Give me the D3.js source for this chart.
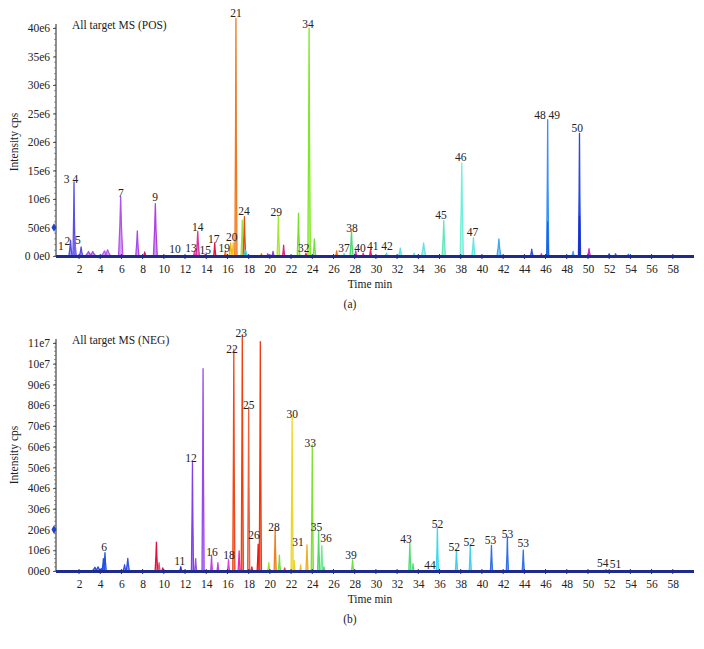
<!DOCTYPE html>
<html><head><meta charset="utf-8">
<script src="https://cdn.jsdelivr.net/npm/d3@7"></script>
<style>
body{margin:0;background:#fff}
svg{display:block}
text{font-family:"Liberation Serif","DejaVu Serif",serif;fill:#222}
</style>
</head><body>
<svg id="c" width="704" height="649"></svg>
<script>
// ---------- shared ----------
const xTickValues = [2,4,6,8,10,12,14,16,18,20,22,24,26,28,30,32,34,36,38,40,42,44,46,48,50,52,54,56,58];

// ---------- (a) POS ----------
const posYTickValues = [0,5e6,10e6,15e6,20e6,25e6,30e6,35e6,40e6];
const posYTickLabels = ["0 0e0","50e6","10e6","15e6","20e6","25e6","30e6","35e6","40e6"];
const posTimes   = [1.2, 1.53, 1.6, 2.2, 2.9, 3.3, 4.4, 4.7, 5.93, 7.5, 8.2, 9.2, 12.9, 13.2, 13.9, 14.8, 15.8, 16.3, 16.55, 16.8, 17.4, 17.6, 17.7, 19.2, 19.8, 20.3, 20.8, 21.3, 22.7, 23.4, 23.7, 24.2, 26.3, 27.0, 27.7, 28.1, 28.8, 29.5, 31.0, 32.3, 33.6, 34.5, 36.4, 38.1, 39.2, 41.6, 44.7, 45.6, 46.2, 46.2, 48.6, 49.2, 49.2, 50.1, 52.0, 52.6, 53.8];
const posHeights = [2.8e6, 13.0e6, 3.5e6, 1.6e6, 0.8e6, 0.8e6, 0.9e6, 1.1e6, 10.4e6, 4.4e6, 0.7e6, 9.2e6, 0.9e6, 4.3e6, 0.3e6, 2.3e6, 0.9e6, 2.3e6, 2.3e6, 41.7e6, 6.3e6, 6.9e6, 1.0e6, 0.4e6, 0.4e6, 0.8e6, 7.0e6, 1.9e6, 7.5e6, 0.5e6, 40.0e6, 3.0e6, 0.9e6, 0.4e6, 4.3e6, 0.9e6, 0.5e6, 1.2e6, 0.5e6, 1.4e6, 0.5e6, 2.3e6, 6.2e6, 16.3e6, 3.2e6, 3.0e6, 1.2e6, 0.4e6, 23.9e6, 6.0e6, 0.8e6, 21.5e6, 7.0e6, 1.3e6, 0.4e6, 0.4e6, 0.3e6];
const posWidths  = [0.15, 0.1, 0.15, 0.15, 0.3, 0.3, 0.3, 0.3, 0.2, 0.15, 0.1, 0.18, 0.12, 0.15, 0.1, 0.1, 0.1, 0.15, 0.15, 0.1, 0.12, 0.12, 0.2, 0.1, 0.1, 0.1, 0.12, 0.1, 0.12, 0.1, 0.12, 0.12, 0.1, 0.1, 0.14, 0.1, 0.1, 0.1, 0.15, 0.15, 0.1, 0.2, 0.15, 0.15, 0.15, 0.18, 0.12, 0.1, 0.1, 0.08, 0.1, 0.1, 0.06, 0.12, 0.1, 0.1, 0.1];
const posColors  = ["#4a4ae8","#5a50e8","#7a60f0","#5a48e0","#a050e0","#a050e0","#b060e8","#b060e8","#b550e8","#a848e8","#e01848","#b040e0","#e040b0","#e0309a","#e0309a","#e8103c","#f07020","#f0b800","#f0c020","#f07a20","#98e040","#e84818","#30d8d0","#f07020","#a040e0","#8040e0","#a8e830","#e02080","#78e030","#e03030","#80e828","#70e040","#f07020","#60d8e0","#50d870","#e030a0","#e030a0","#e02080","#60d8e0","#60e0e8","#60d8e0","#68e0e0","#60e8b8","#70f0d8","#60e8e0","#40a8f0","#3050e0","#c040e0","#3890f8","#2060e0","#40a0f0","#2a48e0","#1830c0","#d020e0","#3070e0","#3070e0","#3070e0"];
const posLabelTexts  = ["1","2","3 4","5","7","9","10","13","14","15","17","19","20","21","24","29","32","34","37","38","40","41","42","45","46","47","48 49","50"];
const posLabelTimes  = [0.3, 0.9, 1.25, 1.9, 5.96, 9.17, 11.05, 12.57, 13.2, 13.9, 14.7, 15.7, 16.4, 16.8, 17.55, 20.6, 23.2, 23.6, 27.0, 27.75, 28.5, 29.7, 31.05, 36.15, 38.0, 39.1, 46.15, 49.0];
const posLabelValues = [1.06e6, 1.9e6, 12.8e6, 2.1e6, 10.4e6, 9.7e6, 0.5e6, 0.7e6, 4.4e6, 0.35e6, 2.3e6, 0.7e6, 2.6e6, 41.9e6, 7.2e6, 7.0e6, 0.7e6, 40.0e6, 0.7e6, 4.2e6, 0.7e6, 1.06e6, 1.06e6, 6.5e6, 16.7e6, 3.5e6, 24.1e6, 21.8e6];
const posMarkerValue = 5e6;

// ---------- (b) NEG ----------
const negYTickValues = [0,10e6,20e6,30e6,40e6,50e6,60e6,70e6,80e6,90e6,100e6,110e6];
const negYTickLabels = ["00e0","10e6","20e6","30e6","40e6","50e6","60e6","70e6","80e6","90e6","10e7","11e7"];
const negTimes   = [3.5, 3.8, 4.1, 4.3, 4.45, 6.3, 6.6, 9.3, 9.55, 9.9, 11.6, 12.7, 13.0, 13.7, 14.5, 15.1, 16.1, 16.6, 17.1, 17.4, 18.0, 18.3, 18.9, 19.1, 19.9, 20.5, 20.9, 21.4, 22.1, 22.3, 22.9, 23.5, 24.0, 24.6, 24.9, 25.1, 27.8, 33.2, 33.5, 35.8, 37.6, 38.9, 40.9, 42.4, 43.9, 51.7];
const negHeights = [1.8e6, 2.0e6, 1.2e6, 6.0e6, 8.8e6, 3.0e6, 6.1e6, 13.9e6, 4.0e6, 1.5e6, 2.1e6, 52.3e6, 6.0e6, 97.6e6, 7.7e6, 4.0e6, 5.5e6, 107e6, 9.7e6, 114e6, 79e6, 2.0e6, 13e6, 110.7e6, 4.0e6, 20.4e6, 7.7e6, 1.5e6, 74.9e6, 5.0e6, 3.0e6, 12.6e6, 60.9e6, 19.5e6, 12.2e6, 2.0e6, 5.3e6, 13.7e6, 3.5e6, 21.1e6, 10.6e6, 12.4e6, 12.4e6, 16.3e6, 10.1e6, 0.6e6];
const negWidths  = [0.25, 0.25, 0.2, 0.12, 0.12, 0.15, 0.15, 0.12, 0.1, 0.1, 0.1, 0.1, 0.1, 0.1, 0.08, 0.08, 0.1, 0.1, 0.1, 0.1, 0.1, 0.1, 0.1, 0.1, 0.1, 0.1, 0.1, 0.1, 0.1, 0.08, 0.08, 0.1, 0.1, 0.1, 0.1, 0.1, 0.1, 0.1, 0.1, 0.1, 0.1, 0.1, 0.1, 0.1, 0.1, 0.1];
const negColors  = ["#2050e8","#2050e8","#2050e8","#2050e8","#2050e8","#3050e8","#3050e8","#e0103c","#e85060","#e0103c","#3030d0","#8040e8","#9050e8","#9848f0","#c040e0","#c040e0","#e040e0","#f04818","#f020c0","#f04010","#f06040","#f02020","#f01010","#f03810","#a0e030","#f08020","#70e040","#f04040","#e8d828","#e8d828","#f0c020","#f0b020","#80e030","#50d860","#70e890","#50d860","#70e040","#50e070","#50e070","#40d8f0","#40d0e8","#40d0e8","#3070e8","#3070e8","#3070e8","#2040c0"];
const negLabelTexts  = ["6","11","12","16","18","22","23","25","26","28","30","31","33","35","36","39","43","44","52","52","52","53","53","53","54","51"];
const negLabelTimes  = [4.36, 11.5, 12.57, 14.55, 16.15, 16.43, 17.3, 18.0, 18.5, 20.4, 22.1, 22.65, 23.8, 24.4, 25.3, 27.65, 32.85, 35.1, 35.8, 37.4, 38.8, 40.8, 42.4, 43.9, 51.4, 52.6];
const negLabelValues = [9.7e6, 2.9e6, 52.6e6, 7.2e6, 5.8e6, 105.3e6, 113e6, 78.2e6, 15.5e6, 19.3e6, 73.9e6, 12.1e6, 59.9e6, 19.3e6, 14e6, 5.8e6, 13.5e6, 1.0e6, 20.8e6, 9.7e6, 12.1e6, 13e6, 15.9e6, 11.6e6, 1.9e6, 1.45e6];
const negMarkerValue = 20e6;

const svg = d3.select("#c");

function panel(o) {
  const g = svg.append("g");
  const x = d3.scaleLinear().domain([0, 60]).range([57.8, 694]);
  const y = d3.scaleLinear().domain([0, o.yMax]).range([o.base, o.yTop]);

  // peaks
  const area = d3.area().x(d => x(d[0])).y0(y(0)).y1(d => y(d[1]));
  o.times.forEach((t, i) => {
    const w = o.widths[i], h = o.heights[i];
    const pts = [[t - w, 0], [t - w * 0.35, h * 0.55], [t, h], [t + w * 0.35, h * 0.5], [t + w, 0]];
    g.append("path").attr("d", area(pts))
      .attr("fill", o.colors[i]).attr("fill-opacity", 0.55)
      .attr("stroke", o.colors[i]).attr("stroke-width", 1.3).attr("stroke-linejoin", "round");
  });

  // y axis
  const yAxis = d3.axisLeft(y).tickValues(o.yTicks).tickFormat((d, i) => o.yLabels[i]).tickSize(3).tickPadding(3);
  const ya = g.append("g").attr("transform", "translate(56,0)").call(yAxis);
  ya.select(".domain").remove();
  ya.selectAll("line").attr("stroke", "#333").attr("stroke-width", 0.8);
  ya.selectAll("text").attr("font-size", 11.5).style("font-family", '"Liberation Serif",serif').attr("fill", "#222");
  g.append("line").attr("x1", 56).attr("x2", 56).attr("y1", o.base).attr("y2", o.yTop - 4)
    .attr("stroke", "#222").attr("stroke-width", 1);
  // minor ticks
  d3.range(0, o.yMax + 1, o.minor).forEach(v => {
    g.append("line").attr("x1", 54).attr("x2", 56).attr("y1", y(v)).attr("y2", y(v))
      .attr("stroke", "#555").attr("stroke-width", 0.6);
  });

  // x axis
  const xAxis = d3.axisBottom(x).tickValues(xTickValues).tickSize(0).tickPadding(9);
  const xa = g.append("g").attr("transform", `translate(0,${o.base})`).call(xAxis);
  xa.select(".domain").remove();
  xa.selectAll("text").attr("font-size", 11.5).style("font-family", '"Liberation Serif",serif').attr("fill", "#222");
  g.append("line").attr("x1", 56).attr("x2", 694).attr("y1", o.base + 0.5).attr("y2", o.base + 0.5)
    .attr("stroke", "#1e2a8c").attr("stroke-width", 3);
  xTickValues.forEach(v => {
    g.append("line").attr("x1", x(v)).attr("x2", x(v)).attr("y1", o.base - 2).attr("y2", o.base + 3)
      .attr("stroke", "#1e2a8c").attr("stroke-width", 1);
  });

  // marker
  g.append("path").attr("d", d3.symbol(d3.symbolDiamond, 22)())
    .attr("transform", `translate(54,${y(o.marker)})`).attr("fill", "#2040d0");

  // peak labels
  o.labelTexts.forEach((s, i) => {
    g.append("text").attr("x", x(o.labelTimes[i])).attr("y", y(o.labelValues[i]))
      .attr("text-anchor", "middle").attr("font-size", 11.5).text(s);
  });

  // titles
  g.append("text").attr("x", 72).attr("y", o.yTop + 1).attr("font-size", 11.5).text(o.title);
  g.append("text").attr("transform", `translate(18,${o.yLabelY}) rotate(-90)`)
    .attr("text-anchor", "middle").attr("font-size", 11.5).text("Intensity cps");
  g.append("text").attr("x", 370).attr("y", o.base + 32).attr("text-anchor", "middle").attr("font-size", 11.5).text("Time min");
  g.append("text").attr("x", 350).attr("y", o.base + 52).attr("text-anchor", "middle").attr("font-size", 11.5).text(o.tag);
}

panel({
  base: 256, yTop: 28, yMax: 40e6, minor: 1e6,
  times: posTimes, heights: posHeights, widths: posWidths, colors: posColors,
  yTicks: posYTickValues, yLabels: posYTickLabels,
  labelTexts: posLabelTexts, labelTimes: posLabelTimes, labelValues: posLabelValues,
  marker: posMarkerValue, title: "All target MS (POS)", yLabelY: 142, tag: "(a)"
});
panel({
  base: 571, yTop: 343, yMax: 110e6, minor: 2e6,
  times: negTimes, heights: negHeights, widths: negWidths, colors: negColors,
  yTicks: negYTickValues, yLabels: negYTickLabels,
  labelTexts: negLabelTexts, labelTimes: negLabelTimes, labelValues: negLabelValues,
  marker: negMarkerValue, title: "All target MS (NEG)", yLabelY: 455, tag: "(b)"
});
</script>
</body></html>
